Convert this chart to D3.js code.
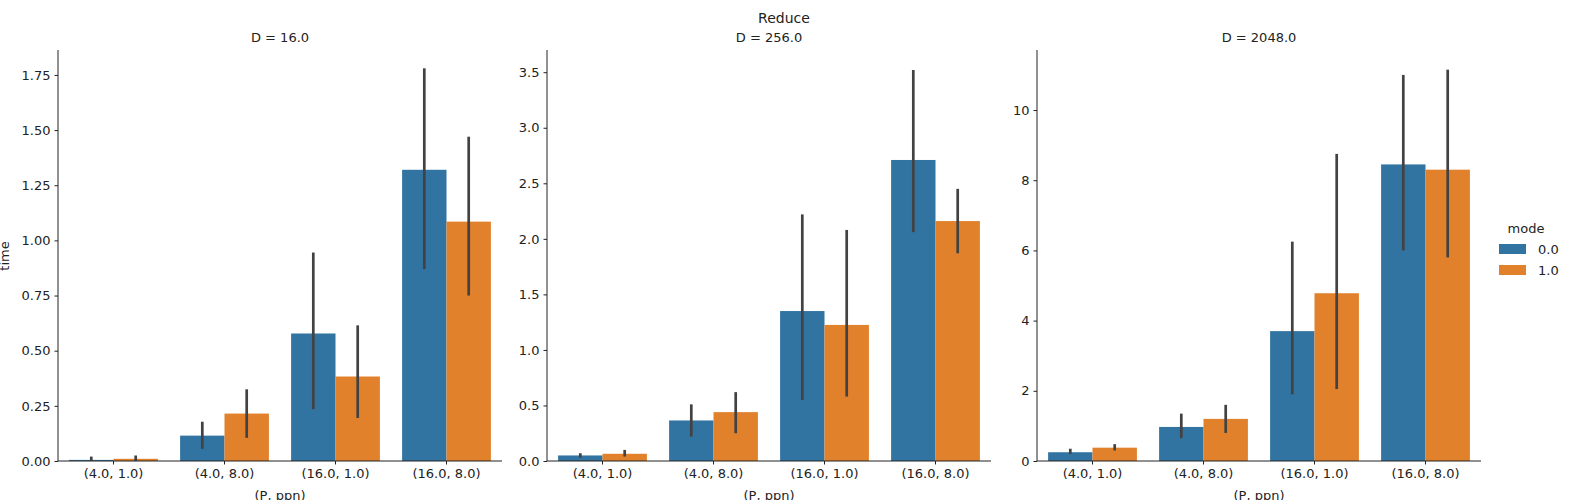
<!DOCTYPE html>
<html><head><meta charset="utf-8">
<script src="https://cdn.jsdelivr.net/npm/d3@7"></script>
<style>body{margin:0;background:#fff}text{font-family:"DejaVu Sans",sans-serif;fill:#222}</style>
</head><body><svg width="1572" height="500"></svg>
<script>
var categories = ["(4.0, 1.0)", "(4.0, 8.0)", "(16.0, 1.0)", "(16.0, 8.0)"];
var modes = ["0.0", "1.0"];
var panelTitles = ["D = 16.0", "D = 256.0", "D = 2048.0"];
var mode0 = [[0.005, 0.115, 0.578, 1.32], [0.05, 0.365, 1.35, 2.71], [0.25, 0.97, 3.7, 8.45]];
var mode1 = [[0.01, 0.215, 0.383, 1.085], [0.065, 0.44, 1.225, 2.16], [0.38, 1.2, 4.78, 8.3]];
var err0 = [[[0, 0.02], [0.055, 0.178], [0.235, 0.945], [0.87, 1.78]],
            [[0.03, 0.07], [0.22, 0.51], [0.55, 2.22], [2.06, 3.52]],
            [[0.2, 0.35], [0.65, 1.35], [1.9, 6.25], [6.0, 11.0]]];
var err1 = [[[0, 0.025], [0.105, 0.325], [0.195, 0.615], [0.75, 1.47]],
            [[0.04, 0.1], [0.25, 0.62], [0.58, 2.08], [1.87, 2.45]],
            [[0.3, 0.48], [0.8, 1.6], [2.05, 8.75], [5.8, 11.15]]];
var yMax = [1.863, 3.70, 11.71];
var tickSteps = [0.25, 0.5, 2];
var tickFmt = [".2f", ".1f", "d"];

var colors = ["#3274a1", "#e1812c"];
var svg = d3.select("svg");
var lefts = [58, 547, 1037], pw = 444, plotTop = 50, plotBottom = 461;

svg.append("text").attr("x", 784).attr("y", 23).attr("text-anchor", "middle")
  .style("font-size", "14px").text("Reduce");

lefts.forEach(function (left, p) {
  var x = d3.scaleBand().domain(categories).range([left, left + pw]).paddingInner(0.2).paddingOuter(0.1);
  var x1 = d3.scaleBand().domain(modes).range([0, x.bandwidth()]);
  var y = d3.scaleLinear().domain([0, yMax[p]]).range([plotBottom, plotTop]);
  var g = svg.append("g");
  var rows = categories.map(function (c, i) {
    return [{c: c, m: "0.0", v: mode0[p][i], e: err0[p][i]}, {c: c, m: "1.0", v: mode1[p][i], e: err1[p][i]}];
  }).flat();

  g.selectAll("rect").data(rows).enter().append("rect")
    .attr("x", function (d) { return x(d.c) + x1(d.m); })
    .attr("width", x1.bandwidth())
    .attr("y", function (d) { return y(d.v); })
    .attr("height", function (d) { return plotBottom - y(d.v); })
    .attr("fill", function (d) { return colors[modes.indexOf(d.m)]; });

  g.selectAll("line.err").data(rows).enter().append("line").attr("class", "err")
    .attr("x1", function (d) { return x(d.c) + x1(d.m) + x1.bandwidth() / 2; })
    .attr("x2", function (d) { return x(d.c) + x1(d.m) + x1.bandwidth() / 2; })
    .attr("y1", function (d) { return y(d.e[0]); })
    .attr("y2", function (d) { return y(d.e[1]); })
    .attr("stroke", "#424242").attr("stroke-width", 2.7);

  var ticks = d3.range(0, yMax[p] + 1e-9, tickSteps[p]);
  var ya = g.append("g").attr("transform", "translate(" + left + ",0)")
    .call(d3.axisLeft(y).tickValues(ticks).tickFormat(d3.format(tickFmt[p])).tickSize(3.5).tickPadding(4));
  var xa = g.append("g").attr("transform", "translate(0," + plotBottom + ")")
    .call(d3.axisBottom(x).tickSize(3.5).tickPadding(4));
  [ya, xa].forEach(function (a) {
    a.selectAll("text").style("font-size", "13px").style("fill", "#222");
    a.selectAll("line,path").attr("stroke", "#222");
  });
  xa.select(".domain").attr("d", "M" + left + ",0H" + (left + pw));
  ya.select(".domain").attr("d", "M0," + plotBottom + "V" + plotTop);

  g.append("text").attr("x", left + pw / 2).attr("y", 42).attr("text-anchor", "middle")
    .style("font-size", "13px").text(panelTitles[p]);
  g.append("text").attr("x", left + pw / 2).attr("y", 500).attr("text-anchor", "middle")
    .style("font-size", "13px").text("(P, ppn)");
});

svg.append("text").attr("transform", "translate(9,256) rotate(-90)").attr("text-anchor", "middle")
  .style("font-size", "13px").text("time");

var lg = svg.append("g");
lg.append("text").attr("x", 1526).attr("y", 233).attr("text-anchor", "middle").style("font-size", "13px").text("mode");
modes.forEach(function (m, i) {
  lg.append("rect").attr("x", 1499).attr("y", 244 + i * 21).attr("width", 27).attr("height", 10).attr("fill", colors[i]);
  lg.append("text").attr("x", 1538).attr("y", 254 + i * 21).style("font-size", "13px").text(m);
});
</script></body></html>
